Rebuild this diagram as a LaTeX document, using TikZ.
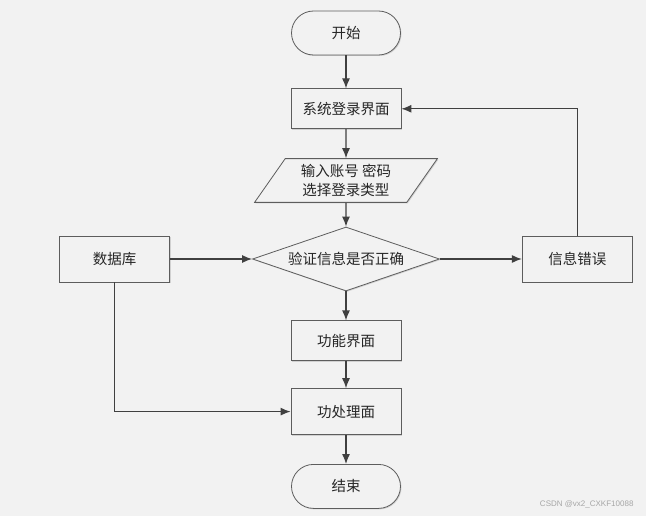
\documentclass[tikz,border=0pt]{standalone}
\usepackage{fontspec}
\setmainfont{Noto Sans CJK SC}
\newfontfamily\markfont{Liberation Sans}
\usetikzlibrary{positioning}
\usetikzlibrary{shadows}
\usetikzlibrary{arrows.meta}
\usetikzlibrary{shapes.geometric}
\definecolor{bgcol}{RGB}{242,242,242}
\definecolor{linecol}{RGB}{64,64,64}

\begin{document}
\begin{tikzpicture}[x=1pt, y=1pt,
            >={Latex[length=10pt,width=8pt]},
            base/.style={draw=linecol!85, fill=bgcol, line width=0.8pt, align=center,
            font=\fontsize{14.5}{21}\selectfont, text=black!85, inner sep=2pt,
            drop shadow={shadow xshift=1pt, shadow yshift=-1pt, fill=black!30, opacity=0.5}},
            terminal/.style={base, rectangle, rounded corners=22pt, minimum width=109pt,
            minimum height=44pt},
            process/.style={base, rectangle, minimum width=110pt, minimum height=40pt},
            tallbox/.style={process, minimum height=46pt},
            iobox/.style={base, trapezium, trapezium left angle=55, trapezium right angle=125,
            minimum width=183pt, minimum height=40pt, inner sep=0pt,
            font=\fontsize{14.5}{19}\selectfont},
            decision/.style={base, diamond, aspect=2.9, inner sep=0pt, minimum width=187pt,
            minimum height=64pt},
            flow/.style={line width=1.2pt, draw=linecol, ->}]
        \fill[bgcol] (0,0) rectangle (646,-516);
        \useasboundingbox (0,0) rectangle (646,-516);

        \node[terminal] (start) at (346,-33) {开始};
        \node[process] (login) [below=33pt of start] {系统登录界面};
        \node[iobox] (input) [below=29pt of login] {输入账号 密码\\选择登录类型};
        \node[decision] (check) at (346,-259) {验证信息是否正确};
        \node[tallbox] (db) [left=82pt of check] {数据库};
        \node[tallbox] (error) [right=82pt of check] {信息错误};
        \node[process] (menu) [below=29pt of check] {功能界面};
        \node[tallbox] (work) [below=27pt of menu] {功处理面};
        \node[terminal] (end) [below=29pt of work] {结束};
        \node[font=\markfont\fontsize{8}{10}\selectfont, text=black!35, anchor=east]
            (mark) at (637,-504) {CSDN @vx2\_CXKF10088};

        \draw[flow] (start) -- (login);
        \draw[flow] (login) -- (input);
        \draw[flow] (input) -- (check);
        \draw[flow] (db) -- (check);
        \draw[flow] (check) -- (error);
        \draw[flow] (error.north) |- (login.east);
        \draw[flow] (check) -- (menu);
        \draw[flow] (menu) -- (work);
        \draw[flow] (db.south) |- (work.west);
        \draw[flow] (work) -- (end);
    \end{tikzpicture}
\end{document}
